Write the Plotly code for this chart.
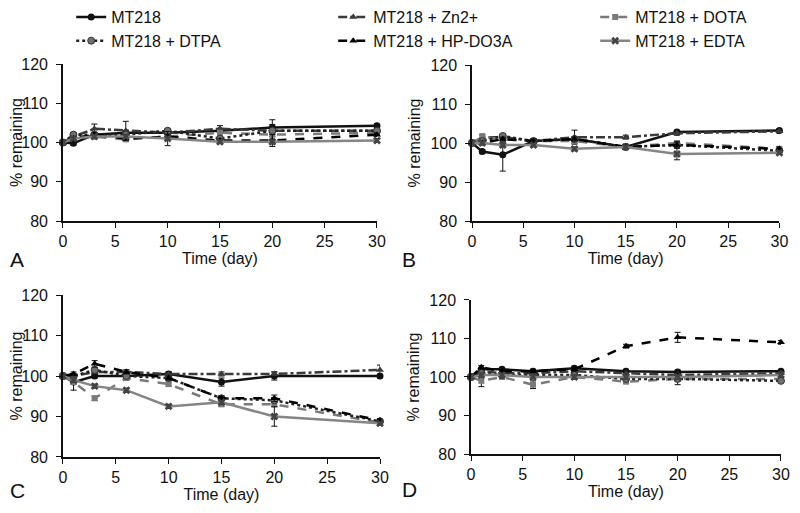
import plotly.graph_objects as go

days = [0, 1, 3, 6, 10, 15, 20, 30]
series_names = ["MT218", "MT218 + Zn2+", "MT218 + DOTA", "MT218 + DTPA", "MT218 + HP-DO3A", "MT218 + EDTA"]
panel_labels = ["A", "B", "C", "D"]

# Panel A
a_mt218 = [100, 99.8, 102.0, 102.5, 102.5, 103.0, 103.8, 104.3]
a_zn = [100, 101.5, 103.5, 103.0, 102.5, 103.5, 103.0, 103.0]
a_dota = [100, 101.5, 101.5, 100.8, 101.5, 102.5, 102.0, 102.5]
a_dtpa = [100, 102.0, 102.0, 102.0, 103.0, 101.0, 103.0, 103.0]
a_hp = [100, 101.0, 102.0, 101.0, 101.5, 100.5, 100.5, 102.0]
a_edta = [100, 101.0, 101.5, 101.5, 101.0, 100.2, 100.2, 100.5]
a_err_mt218 = [0, 0.5, 0.5, 0.5, 0.5, 0.5, 0.8, 0.5]
a_err_zn = [0, 0.5, 1.2, 2.4, 0.5, 0.8, 0.5, 0.5]
a_err_dota = [0, 0.5, 0.5, 0.5, 0.5, 0.5, 0.5, 0.5]
a_err_dtpa = [0, 0.5, 0.5, 0.5, 0.5, 0.5, 2.8, 0.5]
a_err_hp = [0, 0.5, 0.5, 0.5, 0.5, 0.5, 1.5, 0.5]
a_err_edta = [0, 0.5, 0.5, 0.5, 1.8, 0.5, 0.5, 0.5]

# Panel B
b_mt218 = [100, 97.8, 97.0, 100.5, 101.0, 99.0, 102.8, 103.2]
b_zn = [100, 101.5, 101.5, 100.5, 101.5, 101.5, 102.5, 103.0]
b_dota = [100, 101.5, 101.0, 100.5, 100.5, 99.0, 100.0, 98.5]
b_dtpa = [100, 100.5, 101.8, 100.5, 101.0, 99.0, 99.5, 98.0]
b_hp = [100, 100.0, 101.0, 100.5, 101.0, 99.0, 99.5, 98.5]
b_edta = [100, 100.0, 99.5, 99.5, 98.5, 99.0, 97.2, 97.5]
b_err_mt218 = [0, 0.5, 4.2, 0.5, 0.5, 0.5, 0.5, 0.5]
b_err_zn = [0, 0.5, 0.5, 0.5, 1.8, 0.5, 0.5, 0.5]
b_err_dota = [0, 0.8, 0.5, 0.5, 0.5, 0.5, 0.5, 0.5]
b_err_dtpa = [0, 0.5, 0.5, 0.5, 0.5, 0.5, 0.5, 0.5]
b_err_hp = [0, 0.5, 0.5, 0.5, 0.5, 0.5, 0.8, 0.5]
b_err_edta = [0, 0.5, 0.5, 0.5, 0.5, 0.5, 1.5, 0.5]

# Panel C
c_mt218 = [100, 98.5, 100.0, 100.0, 100.5, 98.5, 100.0, 100.0]
c_zn = [100, 100.0, 101.0, 101.0, 100.5, 100.5, 100.5, 101.5]
c_dota = [100, 98.5, 94.5, 99.5, 98.0, 93.0, 93.0, 88.5]
c_dtpa = [100, 100.0, 101.5, 100.0, 99.5, 94.5, 94.0, 88.8]
c_hp = [100, 100.5, 103.0, 101.0, 99.5, 94.5, 94.5, 89.0]
c_edta = [100, 99.0, 97.5, 96.5, 92.5, 93.5, 90.0, 88.3]
c_err_mt218 = [0, 2.0, 0.5, 0.5, 0.5, 1.0, 1.0, 0.5]
c_err_zn = [0, 0.5, 0.5, 0.5, 0.5, 0.5, 0.5, 1.2]
c_err_dota = [0, 0.5, 0.5, 0.5, 0.5, 0.5, 0.5, 0.5]
c_err_dtpa = [0, 0.5, 0.5, 0.5, 0.5, 0.5, 0.5, 0.5]
c_err_hp = [0, 0.5, 0.8, 0.5, 0.5, 0.5, 0.8, 0.5]
c_err_edta = [0, 0.5, 0.5, 0.5, 0.5, 0.5, 2.4, 0.5]

# Panel D
d_mt218 = [100, 102.0, 102.0, 101.5, 102.3, 101.5, 101.3, 101.5]
d_zn = [100, 101.5, 101.0, 101.0, 101.5, 101.0, 100.5, 101.0]
d_dota = [100, 99.0, 100.0, 98.0, 100.0, 98.8, 99.5, 99.5]
d_dtpa = [100, 101.0, 100.5, 100.5, 100.5, 99.5, 99.5, 99.0]
d_hp = [100, 102.5, 101.5, 101.5, 102.0, 108.0, 110.3, 109.0]
d_edta = [100, 100.5, 100.5, 100.0, 100.0, 100.0, 100.0, 100.5]
d_err_mt218 = [0, 0.5, 0.5, 0.5, 0.5, 0.5, 0.5, 0.5]
d_err_zn = [0, 0.5, 0.5, 0.5, 0.5, 0.5, 0.5, 0.5]
d_err_dota = [0, 1.5, 0.5, 1.0, 0.5, 0.5, 1.5, 0.5]
d_err_dtpa = [0, 0.5, 0.5, 0.5, 0.5, 0.5, 0.5, 0.5]
d_err_hp = [0, 0.5, 0.5, 0.5, 0.5, 0.5, 1.3, 0.5]
d_err_edta = [0, 0.5, 0.5, 0.5, 0.5, 0.5, 0.5, 0.5]

panels = [
    [a_mt218, a_zn, a_dota, a_dtpa, a_hp, a_edta],
    [b_mt218, b_zn, b_dota, b_dtpa, b_hp, b_edta],
    [c_mt218, c_zn, c_dota, c_dtpa, c_hp, c_edta],
    [d_mt218, d_zn, d_dota, d_dtpa, d_hp, d_edta],
]
panel_errs = [
    [a_err_mt218, a_err_zn, a_err_dota, a_err_dtpa, a_err_hp, a_err_edta],
    [b_err_mt218, b_err_zn, b_err_dota, b_err_dtpa, b_err_hp, b_err_edta],
    [c_err_mt218, c_err_zn, c_err_dota, c_err_dtpa, c_err_hp, c_err_edta],
    [d_err_mt218, d_err_zn, d_err_dota, d_err_dtpa, d_err_hp, d_err_edta],
]

styles = [
    dict(line=dict(color="#111111", width=2.5, dash="solid"), marker=dict(symbol="circle", size=7, color="#111111")),
    dict(line=dict(color="#3a3a3a", width=2.5, dash="dashdot"), marker=dict(symbol="triangle-up", size=7, color="#3a3a3a")),
    dict(line=dict(color="#7a7a7a", width=2.5, dash="dash"), marker=dict(symbol="square", size=6, color="#7a7a7a")),
    dict(line=dict(color="#222222", width=2.5, dash="dot"), marker=dict(symbol="circle", size=7, color="#707070", line=dict(color="#333333", width=1))),
    dict(line=dict(color="#000000", width=2.5, dash="dash"), marker=dict(symbol="triangle-up", size=7, color="#000000")),
    dict(line=dict(color="#858585", width=2.5, dash="solid"), marker=dict(symbol="x", size=7, color="#444444")),
]

# figure sits 8px into the page (default body margin); sized so the page does not scroll
W, H = 792, 497
xdoms = [(0.0694, 0.4659), (0.5859, 0.9740), (0.0694, 0.4697), (0.5846, 0.9760)]
ydoms = [(0.5714, 0.8873), (0.5714, 0.8853), (0.0966, 0.4225), (0.1026, 0.4125)]

fig = go.Figure()
for p in range(4):
    xa = "x" if p == 0 else f"x{p+1}"
    ya = "y" if p == 0 else f"y{p+1}"
    for s in range(6):
        st = styles[s]
        fig.add_trace(go.Scatter(
            x=days, y=panels[p][s], name=series_names[s],
            mode="lines+markers", line=st["line"], marker=st["marker"],
            error_y=dict(type="data", array=panel_errs[p][s], color="#111111", thickness=1, width=3),
            xaxis=xa, yaxis=ya, showlegend=(p == 0), cliponaxis=False,
        ))

font_family = "Liberation Sans, Arial, sans-serif"
layout = dict(
    width=W, height=H,
    margin=dict(l=0, r=0, t=0, b=0, autoexpand=False),
    paper_bgcolor="white", plot_bgcolor="white",
    font=dict(family=font_family, color="#111111"),
    legend=dict(orientation="h", x=0.0798, y=1.0161, xanchor="left", yanchor="top",
                entrywidth=217, entrywidthmode="pixels", itemwidth=30,
                font=dict(size=16, family=font_family), tracegroupgap=0,
                bgcolor="rgba(0,0,0,0)"),
)
for p in range(4):
    xk = "xaxis" if p == 0 else f"xaxis{p+1}"
    yk = "yaxis" if p == 0 else f"yaxis{p+1}"
    ya = "y" if p == 0 else f"y{p+1}"
    xa = "x" if p == 0 else f"x{p+1}"
    layout[xk] = dict(domain=list(xdoms[p]), anchor=ya, range=[0, 30], tickvals=[0, 5, 10, 15, 20, 25, 30],
                      showline=True, linecolor="#111111", linewidth=1.5, ticks="outside", ticklen=5,
                      tickcolor="#111111", showgrid=False, zeroline=False, automargin=False,
                      tickfont=dict(size=16), title=dict(text="Time (day)", font=dict(size=16), standoff=4))
    layout[yk] = dict(domain=list(ydoms[p]), anchor=xa, range=[80, 120], tickvals=[80, 90, 100, 110, 120],
                      showline=True, linecolor="#111111", linewidth=1.5, ticks="outside", ticklen=5,
                      tickcolor="#111111", showgrid=False, zeroline=False, automargin=False,
                      ticklabelstandoff=5,
                      tickfont=dict(size=16), title=dict(text="% remaining", font=dict(size=16), standoff=6))
fig.update_layout(**layout)

letter_pos = [(0.0, 1 - 251 / H), (0.495, 1 - 251 / H), (0.0, 1 - 482 / H), (0.495, 1 - 481 / H)]
for (lx, ly), lab in zip(letter_pos, panel_labels):
    fig.add_annotation(x=lx, y=ly, xref="paper", yref="paper", text=lab, showarrow=False,
                       xanchor="left", yanchor="middle", font=dict(size=21, family=font_family, color="#111111"))

fig.write_html("out.html")
